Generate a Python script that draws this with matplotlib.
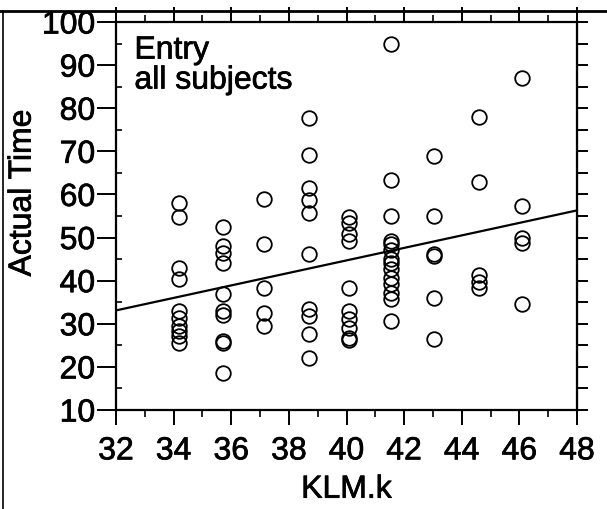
import matplotlib
matplotlib.use("Agg")
import matplotlib.pyplot as plt
import matplotlib.patheffects as pe
from matplotlib.lines import Line2D
from matplotlib.ticker import MultipleLocator

plt.rcParams['font.family'] = ['Liberation Sans', 'DejaVu Sans']

# KLM.k columns and the observed Actual Time values
klm_34 = [58, 54.8, 43, 40.5, 33, 31.4, 29.5, 28.4, 27.2, 25.6]
klm_36 = [52.5, 48, 46.5, 44, 37, 33, 32, 26, 25.5, 18.6]
klm_37 = [59, 48.6, 38.4, 32.5, 29.5]
klm_39 = [77.7, 69.1, 61.4, 58.6, 55.6, 46.3, 33.5, 31.9, 27.7, 22.1]
klm_40 = [54.7, 53.3, 50.9, 49.3, 38.4, 33.0, 31.2, 29.1, 26.7, 26.2]
klm_42 = [95, 63.3, 55.1, 49.3, 48.5, 47, 45.1, 44, 42.8, 40.7, 39.3, 37.2, 35.8, 30.7]
klm_43 = [69, 55.1, 46.3, 45.8, 36.0, 26.5]
klm_45 = [78, 62.8, 41.2, 39.8, 38.4]
klm_46 = [87, 57.4, 50.0, 48.8, 34.7]

klm_k = [34.2, 35.7, 37.15, 38.7, 40.1, 41.55, 43.05, 44.6, 46.1]
times = [klm_34, klm_36, klm_37, klm_39, klm_40, klm_42, klm_43, klm_45, klm_46]

# fitted regression line
fit_x = [32, 48]
fit_y = [33.1, 56.3]

x_ticks = [32, 34, 36, 38, 40, 42, 44, 46, 48]
y_ticks = [10, 20, 30, 40, 50, 60, 70, 80, 90, 100]

FS = 23
heavy = [pe.withStroke(linewidth=0.5, foreground='black')]

fig = plt.figure(figsize=(6.07, 5.09), dpi=100)
ax = fig.add_axes([116/607, 1 - 410/509, (577-116)/607, (410-22)/509])

for xv, ys in zip(klm_k, times):
    ax.plot([xv]*len(ys), ys, linestyle='none', marker='o', markersize=10.5,
            markerfacecolor='none', markeredgecolor='black', markeredgewidth=1.3)

ax.plot(fit_x, fit_y, color='black', linewidth=1.6)

ax.set_xlim(32, 48)
ax.set_ylim(10, 100)
ax.set_xticks(x_ticks)
ax.set_yticks(y_ticks)
ax.xaxis.set_minor_locator(MultipleLocator(1))
ax.yaxis.set_minor_locator(MultipleLocator(5))

for s in ax.spines.values():
    s.set_linewidth(1.6)

ax.tick_params(axis='x', which='major', direction='out', length=11, width=1.4,
               top=True, labelsize=FS, pad=8)
ax.tick_params(axis='x', which='minor', direction='out', length=5, width=1.2, top=True)
ax.tick_params(axis='y', which='major', direction='out', length=14, width=1.4,
               right=False, labelsize=FS, pad=1)
ax.tick_params(axis='y', which='minor', direction='in', length=4, width=1.2, right=False)
# right side: outward ticks every 5
ax2 = ax.secondary_yaxis('right')
ax2.set_yticks(list(range(10, 101, 5)))
ax2.tick_params(direction='out', length=8, width=1.4, labelright=False)

ax.set_xlabel('KLM.k', fontsize=FS, labelpad=6)
ax.set_ylabel('Actual Time', fontsize=FS)
ax.yaxis.set_label_coords(-0.17, 0.56)

ax.text(0.04, 0.965, 'Entry\nall subjects', transform=ax.transAxes, fontsize=FS,
        va='top', ha='left', linespacing=1.0, path_effects=heavy)

for t in ax.get_xticklabels() + ax.get_yticklabels() + [ax.xaxis.label, ax.yaxis.label]:
    t.set_path_effects(heavy)

# scan page border
fig.add_artist(Line2D([0, 1], [1 - 11/509, 1 - 11/509], transform=fig.transFigure,
                      color='black', linewidth=2))
fig.add_artist(Line2D([3/607, 3/607], [0, 1 - 11/509], transform=fig.transFigure,
                      color='black', linewidth=1.2))

fig.savefig('out.png', dpi=100)
